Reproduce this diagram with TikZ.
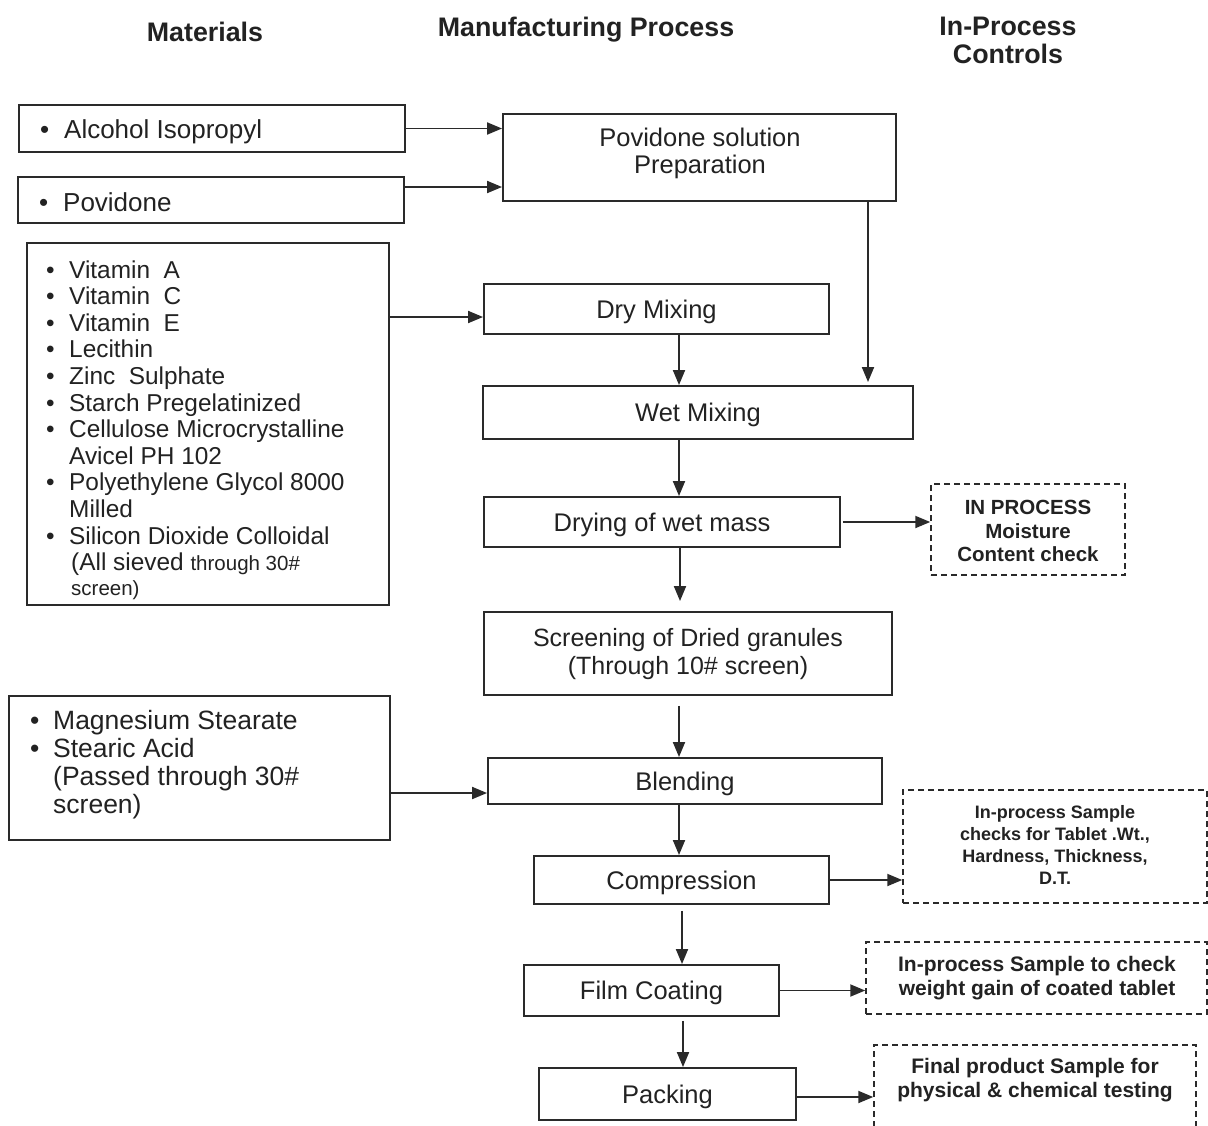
\documentclass[tikz,border=0pt]{standalone}
\usepackage{fontspec}
\setmainfont{Liberation Sans}
\usetikzlibrary{arrows.meta}
\definecolor{ink}{HTML}{222222}
\definecolor{linec}{HTML}{2A2A2A}
\newcommand{\bul}[1]{\makebox[#1][l]{\textbullet}}
\begin{document}
\begin{tikzpicture}[x=1pt,y=-1pt,
  every node/.style={text=ink},
  box/.style={draw=linec, line width=1.9pt, inner sep=0pt, align=center, text height=21pt, text depth=3pt, font=\fontsize{25.5}{28}\selectfont},
  dbox/.style={draw=linec, line width=1.5pt, dash pattern=on 6pt off 4pt, inner sep=0pt},
  ctl/.style={align=center, inner sep=0pt, font=\bfseries\fontsize{21}{24.5}\selectfont},
  hdr/.style={align=center, inner sep=0pt, font=\bfseries\fontsize{26.8}{28}\selectfont},
  lst/.style={align=left, inner sep=0pt, anchor=west},
  arr/.style={draw=linec, line width=1.9pt, -{Triangle[length=15pt,width=12pt]}}]
\useasboundingbox (0,0) rectangle (1208,1125);
\fill[white] (0,0) rectangle (1208,1125);
\clip (0,0) rectangle (1208,1125);

% headers
\node[hdr] (h1) at (205,32) {Materials};
\node[hdr] (h2) at (586,30) {Manufacturing Process};
\node[hdr] (h3) at (1008,40) {In-Process\\Controls};

% materials boxes
\node[box, minimum width=386pt, minimum height=47pt] (alc) at (212,128.5) {};
\node[lst, font=\fontsize{26}{28}\selectfont] (alct) at (40,132) {\bul{24pt}Alcohol Isopropyl};
\node[box, minimum width=386pt, minimum height=46pt] (pov) at (211,200) {};
\node[lst, font=\fontsize{26}{28}\selectfont] (povt) at (39,202) {\bul{24pt}Povidone};

\node[box, minimum width=362pt, minimum height=362pt] (vit) at (208,424) {};
\node[lst, font=\fontsize{24.4}{26.6}\selectfont] (vitt) at (46,430) {%
\bul{23pt}Vitamin\ \ A\\
\bul{23pt}Vitamin\ \ C\\
\bul{23pt}Vitamin\ \ E\\
\bul{23pt}Lecithin\\
\bul{23pt}Zinc\ \ Sulphate\\
\bul{23pt}Starch Pregelatinized\\
\bul{23pt}Cellulose Microcrystalline\\
\hspace*{23pt}Avicel PH 102\\
\bul{23pt}Polyethylene Glycol 8000\\
\hspace*{23pt}Milled\\
\bul{23pt}Silicon Dioxide Colloidal\\
\hspace*{25pt}(All sieved {\fontsize{20.5}{24}\selectfont through 30\#}\\[-2pt]
\hspace*{25pt}{\fontsize{20.5}{24}\selectfont screen)}};

\node[box, minimum width=381pt, minimum height=144pt] (mag) at (199.5,768) {};
\node[lst, font=\fontsize{26.5}{28}\selectfont] (magt) at (30,765) {%
\bul{23pt}Magnesium Stearate\\
\bul{23pt}Stearic Acid\\
\hspace*{23pt}(Passed through 30\#\\
\hspace*{23pt}screen)};

% process boxes
\node[box, minimum width=393pt, minimum height=87pt] (prep) at (699.5,157.5) {};
\node[align=center, inner sep=0pt, font=\fontsize{25.5}{27}\selectfont] (prept) at (700,153) {Povidone solution\\Preparation};
\node[box, minimum width=345pt, minimum height=50pt] (dry) at (656.5,309) {Dry Mixing};
\node[box, minimum width=430pt, minimum height=53pt] (wet) at (698,412.5) {Wet Mixing};
\node[box, minimum width=356pt, minimum height=50pt] (drying) at (662,522) {Drying of wet mass};
\node[box, minimum width=408pt, minimum height=83pt] (scr) at (688,653.5) {};
\node[align=center, inner sep=0pt, font=\fontsize{25}{28}\selectfont] (scrt) at (688,654) {Screening of Dried granules\\(Through 10\# screen)};
\node[box, minimum width=394pt, minimum height=46pt] (blend) at (685,781) {Blending};
\node[box, minimum width=295pt, minimum height=48pt] (comp) at (681.5,880) {Compression};
\node[box, minimum width=255pt, minimum height=51pt] (film) at (651.5,990.5) {Film Coating};
\node[box, minimum width=257pt, minimum height=52pt] (pack) at (667.5,1094) {Packing};

% control boxes
\node[dbox, minimum width=194pt, minimum height=91pt] (ipm) at (1028,529.5) {};
\node[ctl, font=\bfseries\fontsize{20.5}{23.2}\selectfont] (ipmt) at (1028,531) {IN PROCESS\\Moisture\\Content check};
\node[dbox, minimum width=304pt, minimum height=113pt] (ipc) at (1055,846.5) {};
\node[ctl, font=\bfseries\fontsize{18}{22.3}\selectfont] (ipct) at (1055,845) {In-process Sample\\checks for Tablet .Wt.,\\Hardness, Thickness,\\D.T.};
\node[dbox, minimum width=341pt, minimum height=72pt] (ipf) at (1036.5,978) {};
\node[ctl] (ipft) at (1037,978) {In-process Sample to check\\weight gain of coated tablet};
\node[dbox, minimum width=322pt, minimum height=100pt] (fin) at (1035,1095) {};
\node[ctl] (fint) at (1035,1080) {Final product Sample for\\physical \& chemical testing};

% connectors
\draw[arr] (alc.east) -- (alc.east -| prep.west);
\coordinate (povout) at ([yshift=13pt]pov.east);
\draw[arr] (povout) -- (povout -| prep.west);
\coordinate (dryin) at ([yshift=-8pt]dry.west);
\draw[arr] (dryin -| vit.east) -- (dryin);
\coordinate (dryout) at ([xshift=22.5pt]dry.south);
\draw[arr] (dryout) -- (dryout |- wet.north);
\coordinate (prepout) at ([xshift=168.5pt]prep.south);
\draw[arr] (prepout) -- ([yshift=3pt]prepout |- wet.north);
\coordinate (wetout) at ([xshift=-19pt]wet.south);
\draw[arr] (wetout) -- (wetout |- drying.north);
\draw[arr] ([xshift=2pt]drying.east) -- (drying.east -| ipm.west);
\coordinate (dryingout) at ([xshift=18pt]drying.south);
\draw[arr, shorten >=10pt] (dryingout) -- (dryingout |- scr.north);
\coordinate (scrout) at ([xshift=-9pt]scr.south);
\draw[arr, shorten <=10pt] (scrout) -- (scrout |- blend.north);
\coordinate (blendin) at ([yshift=-12pt]blend.west);
\draw[arr] (blendin -| mag.east) -- (blendin);
\coordinate (blendout) at ([xshift=-6pt]blend.south);
\draw[arr] (blendout) -- (blendout |- comp.north);
\draw[arr] (comp.east) -- (comp.east -| ipc.west);
\coordinate (compout) at ([xshift=0.5pt]comp.south);
\draw[arr, shorten <=6pt] (compout) -- (compout |- film.north);
\draw[arr] (film.east) -- (film.east -| ipf.west);
\coordinate (filmout) at ([xshift=31.5pt]film.south);
\draw[arr, shorten <=4pt] (filmout) -- (filmout |- pack.north);
\coordinate (packout) at ([yshift=-3pt]pack.east);
\draw[arr] (packout) -- (packout -| fin.west);
\end{tikzpicture}
\end{document}
